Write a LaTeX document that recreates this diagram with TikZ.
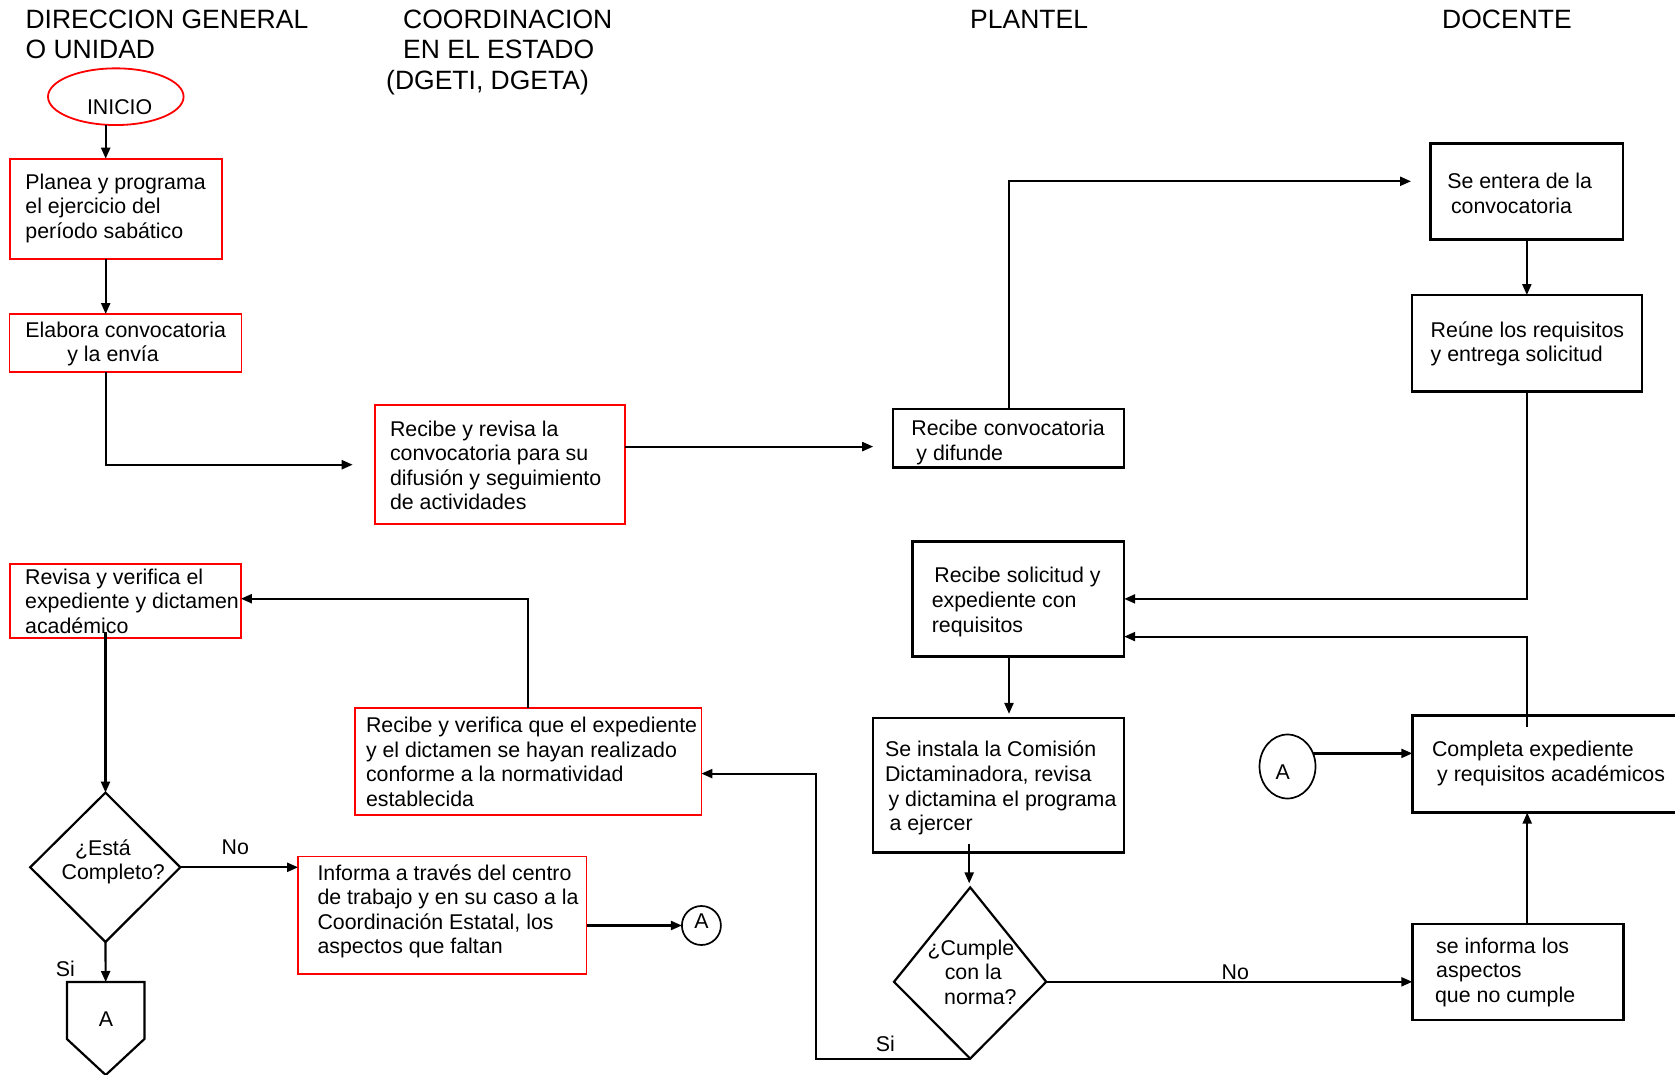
\documentclass[tikz,border=0pt]{standalone}
\usepackage{fontspec}
\setmainfont{Liberation Sans}
\usetikzlibrary{arrows.meta,calc,shapes.geometric}
\begin{document}
\begin{tikzpicture}[x=1pt,y=-1pt,
  rbox/.style={draw=red, line width=1.8pt, inner sep=0pt, outer sep=0pt},
  bbox/.style={draw=black, line width=2.5pt, inner sep=0pt, outer sep=0pt},
  txt/.style={inner sep=0pt, outer sep=0pt, align=left, anchor=west, font=\fontsize{21.35}{24.6}\selectfont},
  head/.style={inner sep=0pt, anchor=base west, font=\fontsize{26.5}{30}\selectfont},
  lbl/.style={inner sep=0pt, anchor=base west, font=\fontsize{21.35}{24.6}\selectfont},
  ctxt/.style={inner sep=0pt, font=\fontsize{21.35}{24.6}\selectfont},
  arr/.style={line width=2.2pt, -{Triangle[length=11pt,width=9pt]}},
  shp/.style={draw=black, line width=2.2pt, line join=miter},
]
\fill[white] (0,0) rectangle (1675,1075);
\useasboundingbox (0,0) rectangle (1675,1075);
\clip (0,0) rectangle (1675,1075);

% guide coordinates
\coordinate (colA) at (105.7,0);
\coordinate (colP) at (1009,0);
\coordinate (colD) at (1527.2,0);
\coordinate (colS) at (816.2,0);
\coordinate (r0) at (0,181.3);
\coordinate (r1) at (0,446.6);
\coordinate (r2) at (0,598.9);
\coordinate (r3) at (0,636.6);
\coordinate (r4) at (0,773.6);
\coordinate (r5) at (0,753.4);
\coordinate (r6) at (0,598.7);

% headers
\node[head] (h1a) at (25.4,28.3) {DIRECCION GENERAL};
\node[head] (h1b) at (25.4,58.3) {O UNIDAD};
\node[head] (h2a) at (403,28.3) {COORDINACION};
\node[head] (h2b) at (403,58.3) {EN EL ESTADO};
\node[head] (h2c) at (386,89.3) {(DGETI, DGETA)};
\node[head] (h3) at (970,28.3) {PLANTEL};
\node[head] (h4) at (1442,28.3) {DOCENTE};

% left column
\node[draw=red, line width=1.8pt, ellipse, inner sep=0pt, outer sep=0pt,
      minimum width=135.6pt, minimum height=56.7pt] (inicio) at (115.8,96.7) {};
\node[lbl] (inicioT) at (86.8,115) {INICIO};

\node[rbox, minimum width=212pt, minimum height=100pt] (planea) at (115.7,208.7) {};
\node[txt] (planeaT) at (25.4,208.4) {Planea y programa\\el ejercicio del\\período sabático};

\node[rbox, minimum width=232pt, minimum height=57.8pt] (elabora) at (125.5,342.9) {};
\node[txt] (elaboraT) at (25.4,344.1) {Elabora convocatoria\\\hspace*{42pt}y la envía};

\node[rbox, minimum width=231.2pt, minimum height=74.1pt] (revver) at (125.3,600.95) {};
\node[txt] (revverT) at (25.2,601) {Revisa y verifica el\\expediente y dictamen\\académico};

\coordinate (estT) at (105.5,792.6);
\coordinate (estR) at (180.3,867.3);
\coordinate (estB) at (105.5,942);
\coordinate (estL) at (30.2,867.3);
\draw[shp] (estT) -- (estR) -- (estB) -- (estL) -- cycle;
\node[txt] (estaT) at (61.6,861.7) {\hspace*{13.4pt}¿Está\\Completo?};

\coordinate (pTop) at (105.7,982);
\coordinate (pA) at (66.9,982);
\coordinate (pB) at (144.4,982);
\coordinate (pC) at (144.4,1039);
\coordinate (pD) at (105.7,1075);
\coordinate (pE) at (66.9,1039);
\draw[shp] (pA) -- (pB) -- (pC) -- (pD) -- (pE) -- cycle;
\node[ctxt] (pentT) at (106,1018.8) {A};

% coordinacion column
\node[rbox, minimum width=250pt, minimum height=119.3pt] (recrev) at (499.7,464.7) {};
\node[txt] (recrevT) at (390,465.3) {Recibe y revisa la\\convocatoria para su\\difusión y seguimiento\\de actividades};

\node[rbox, minimum width=346.1pt, minimum height=106.4pt] (recver) at (528.35,761.5) {};
\node[txt] (recverT) at (366,761.85) {Recibe y verifica que el expediente\\y el dictamen se hayan realizado\\conforme a la normatividad\\establecida};

\node[rbox, minimum width=288.4pt, minimum height=117.7pt] (informa) at (442.3,915.25) {};
\node[txt] (informaT) at (317.5,911.4) {Informa a través del centro\\de trabajo y en su caso a la\\Coordinación Estatal, los\\aspectos que faltan};

\node[circle, draw, line width=1.7pt, minimum size=39pt, inner sep=0pt, outer sep=0pt] (ca1) at (701.4,925.5) {};
\node[ctxt] (ca1T) at (701.4,921.6) {A};

% plantel column
\node[bbox, minimum width=230.9pt, minimum height=58.3pt] (recconv) at (1008.65,438.15) {};
\node[txt] (recconvT) at (911.4,442.5) {Recibe convocatoria\\\hspace*{5pt}y difunde};

\node[bbox, minimum width=211.8pt, minimum height=115pt] (recsol) at (1018.3,599.2) {};
\node[txt] (recsolT) at (931.8,602) {\hspace*{2.6pt}Recibe solicitud y\\expediente con\\requisitos};

\node[bbox, minimum width=251.2pt, minimum height=134.7pt] (instala) at (998.6,785.25) {};
\node[txt] (instalaT) at (885,788.2) {Se instala la Comisión\\Dictaminadora, revisa\\\hspace*{3.6pt}y dictamina el programa\\\hspace*{4.6pt}a ejercer};

\coordinate (cumT) at (970.2,887.4);
\coordinate (cumR) at (1046.2,981.8);
\coordinate (cumB) at (970.2,1058.6);
\coordinate (cumL) at (894,981.8);
\draw[shp] (cumT) -- (cumR) -- (cumB) -- (cumL) -- cycle;
\node[txt] (cumT2) at (927.6,972.1) {¿Cumple\\\hspace*{17.2pt}con la\\\hspace*{16.6pt}norma?};

% docente column
\node[bbox, minimum width=192.3pt, minimum height=96pt] (entera) at (1526.85,191.3) {};
\node[txt] (enteraT) at (1447.3,193.5) {Se entera de la\\\hspace*{3.7pt}convocatoria};

\node[bbox, minimum width=230.2pt, minimum height=96.7pt] (reune) at (1527.1,343.35) {};
\node[txt] (reuneT) at (1430.7,343.75) {Reúne los requisitos\\y entrega solicitud};

\node[bbox, minimum width=277.7pt, minimum height=96.9pt] (completa) at (1551.15,764.15) {};
\node[txt] (completaT) at (1432,763.3) {Completa expediente\\\hspace*{5.2pt}y requisitos académicos};

\node[bbox, minimum width=211.1pt, minimum height=96.1pt] (seinf) at (1517.85,971.95) {};
\node[txt] (seinfT) at (1435.1,972.2) {\hspace*{1.1pt}se informa los\\\hspace*{1.1pt}aspectos\\que no cumple};

\node[ellipse, draw, line width=1.7pt, minimum width=56pt, minimum height=64pt, inner sep=0pt, outer sep=0pt] (ca2) at (1287.5,766.5) {};
\node[ctxt] (ca2T) at (1282.8,772.2) {A};

% connectors
\draw[arr] ($(inicio.south)+(-10.1,0)$) -- (planea.north -| colA);
\draw[arr] (planea.south -| colA) -- (elabora.north -| colA);
\draw[arr, shorten >=22pt] (elabora.south -| colA) |- (recrev.west);
\draw[arr, shorten >=20pt] (recrev.east |- r1) -- (recconv.west |- r1);
\draw[arr, shorten >=19.7pt] (recconv.north) |- (entera.west |- r0);
\draw[arr] (entera.south) -- (entera.south |- reune.north);
\draw[arr] (reune.south -| colD) |- (recsol.east |- r2);
\draw[arr] ($(completa.north -| colD)+(0,11)$) |- (recsol.east |- r3);
\draw[arr, shorten >=4pt] (recsol.south -| colP) -- (instala.north -| colP);
\draw[arr, shorten >=4pt] ($(instala.south -| cumT)+(-1,-9)$) -- ($(cumT)+(-1,0)$);
\draw[arr] (cumR) -- (seinf.west |- cumR);
\node[lbl] (noB) at (1221.4,979.2) {No};
\draw[arr] (cumB) -| (colS |- r4) -- (recver.east |- r4);
\node[lbl] (siB) at (875.6,1051.9) {Si};
\draw[arr] (seinf.north -| colD) -- (completa.south -| colD);
\draw[arr] ($(ca2.east |- r5)+(-3,0)$) -- (completa.west |- r5);
\draw[arr] (recver.north) |- (revver.east |- r6);
\draw[arr] ($(revver.south -| estT)+(0,-6)$) -- (estT);
\draw[arr] (estR) -- (informa.west |- estR);
\node[lbl] (noA) at (221.5,854.7) {No};
\draw[arr] (informa.east |- ca1.west) -- (ca1.west);
\draw[arr] (estB) -- (pTop);
\node[lbl] (siA) at (55.7,976.9) {Si};
\end{tikzpicture}
\end{document}
